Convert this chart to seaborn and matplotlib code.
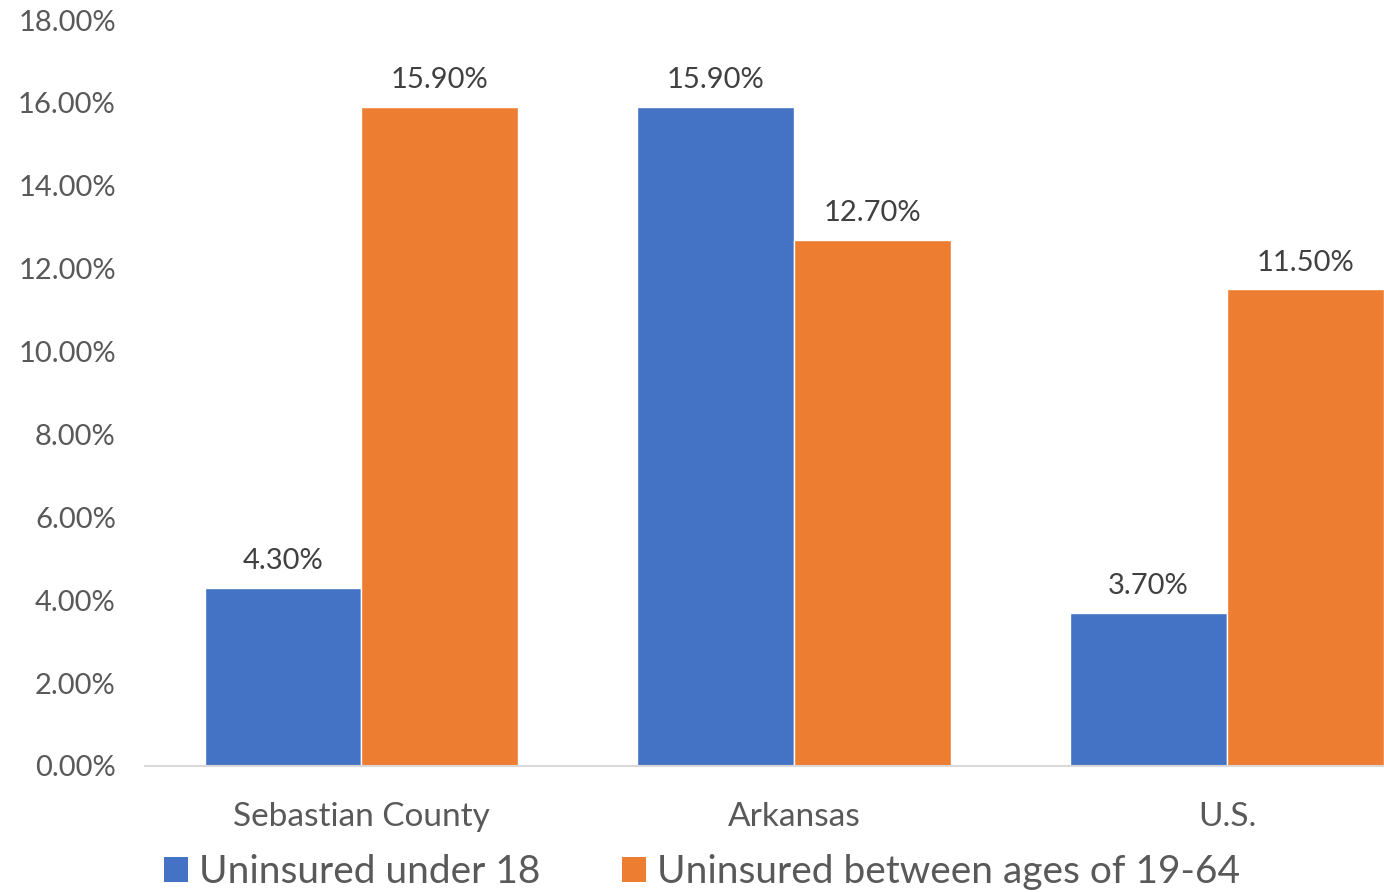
import matplotlib
matplotlib.use("Agg")
import matplotlib.pyplot as plt
import seaborn as sns
import pandas as pd
from matplotlib.patches import Patch

# chart data
regions = ["Sebastian County", "Arkansas", "U.S."]
series_names = ["Uninsured under 18", "Uninsured between ages of 19-64"]
under_18 = [4.3, 15.9, 3.7]
ages_19_64 = [15.9, 12.7, 11.5]
y_ticks = [0, 2, 4, 6, 8, 10, 12, 14, 16, 18]

colors = ["#4472C4", "#ED7D31"]
text_color = "#595959"

df = pd.DataFrame({
    "region": regions * 2,
    "series": [series_names[0]] * 3 + [series_names[1]] * 3,
    "value": under_18 + ages_19_64,
})

sns.set_style("white")
plt.rcParams["font.family"] = ["Lato", "DejaVu Sans"]

fig = plt.figure(figsize=(13.84, 8.92), dpi=100)
ax = fig.add_axes([145 / 1384, 1 - 766 / 892, 1 - 145 / 1384, (766 - 20) / 892])

sns.barplot(data=df, x="region", y="value", hue="series", palette=colors,
            width=0.725, gap=0, saturation=1, legend=False, ax=ax)

# value labels on top of the bars
for cont in ax.containers:
    ax.bar_label(cont, labels=[f"{v:.2f}%" for v in cont.datavalues],
                 padding=10, fontsize=21, color="#404040")

ax.set_ylim(0, 18)
ax.set_xlim(-0.5, 2 + (1384 - 1227) / 433)
ax.set_yticks(y_ticks)
ax.set_yticklabels([f"{t:.2f}%" for t in y_ticks], fontsize=21, color=text_color)
ax.tick_params(axis="y", length=0, pad=21)
ax.tick_params(axis="x", length=0, pad=26, labelsize=24, labelcolor=text_color)
ax.set_xlabel("")
ax.set_ylabel("")

for side in ["top", "right", "left"]:
    ax.spines[side].set_visible(False)
ax.spines["bottom"].set_color("#d9d9d9")
ax.spines["bottom"].set_linewidth(1.5)

handles = [Patch(facecolor=c, edgecolor="none") for c in colors]
fig.legend(handles, series_names, loc="center", bbox_to_anchor=(702 / 1384, 1 - 872 / 892),
           ncol=2, frameon=False, fontsize=28, labelcolor=text_color,
           handlelength=0.62, handleheight=0.62, handletextpad=0.28,
           columnspacing=2.1, borderpad=0, borderaxespad=0)

fig.savefig("out.png", dpi=100, facecolor="white")
